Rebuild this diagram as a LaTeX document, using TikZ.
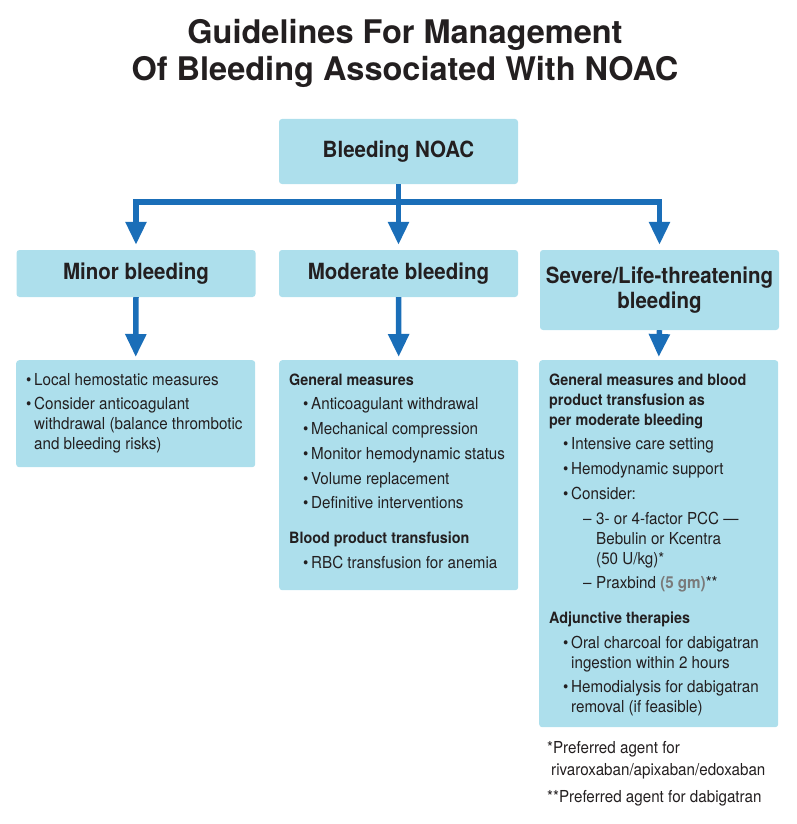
\documentclass[tikz,border=0pt]{standalone}
\usepackage{fontspec}
\setmainfont[FakeStretch=0.92]{TeX Gyre Heros}
\newfontfamily\titlefont{TeX Gyre Heros}
\usetikzlibrary{arrows.meta,positioning}

\definecolor{boxblue}{RGB}{173,223,236}
\definecolor{flowblue}{RGB}{26,110,184}
\definecolor{ink}{RGB}{35,31,32}
\definecolor{dosegray}{RGB}{122,122,122}

% text inside the blue boxes
\newcommand{\boxtext}[2]{\begin{minipage}[t][#1][t]{219pt}\fontsize{16.5}{20}\selectfont\parskip=4.7pt\relax #2\end{minipage}}
\newcommand{\bul}[2][14pt]{\par{\leftskip=#1\relax\hangindent=8pt\hangafter=1\noindent\strut\makebox[8pt][l]{\textbullet}#2\par}}
\newcommand{\dsh}[1]{\par{\leftskip=34pt\hangindent=13pt\hangafter=1\noindent\strut\makebox[13pt][l]{–}#1\par}}
\newcommand{\hd}[2][0pt]{\par\ifdim#1>0pt\vspace{#1}\fi{\fontsize{15.6}{20}\selectfont\noindent\strut\textbf{#2}\par}}

\begin{document}
\begin{tikzpicture}[x=1pt,y=-1pt,
    box/.style={fill=boxblue,rounded corners=3pt,inner sep=0pt,text=ink},
    head/.style={box,minimum width=239pt,align=center,font=\fontsize{22.3}{25.5}\selectfont\bfseries},
    listbox/.style={box,inner xsep=10pt,inner ysep=11pt,anchor=north west},
    flow/.style={draw=flowblue,line width=5.5pt,-{Triangle[width=20pt,length=23pt]}},
  ]
  \useasboundingbox (0,0) rectangle (796,824);

  \node[anchor=north,align=center,text=ink,inner sep=0pt,
    font=\titlefont\fontsize{32.5}{36.5}\selectfont\bfseries] (title) at (405,19.5)
    {Guidelines For Management\\Of Bleeding Associated With NOAC};

  \node[head,minimum height=65pt] (root) at (398.5,151.5) {Bleeding NOAC};

  \node[head,minimum height=47pt] (minor) at (136,273.5) {Minor bleeding};
  \node[head,minimum height=47pt] (moderate) at (398.5,273.5) {Moderate bleeding};
  \node[head,minimum height=80pt] (severe) at (659.5,290) {Severe/Life-threatening\\bleeding};

  \node[listbox] (minorx) at (16,360) {\boxtext{85pt}{%
    \bul[0pt]{Local hemostatic measures}
    \bul[0pt]{Consider anticoagulant\\withdrawal (balance thrombotic\\and bleeding risks)}}};

  \node[listbox] (moderatex) at (279,360) {\boxtext{208pt}{%
    \hd{General measures}
    \bul{Anticoagulant withdrawal}
    \bul{Mechanical compression}
    \bul{Monitor hemodynamic status}
    \bul{Volume replacement}
    \bul{Definitive interventions}
    \hd[10.5pt]{Blood product transfusion}
    \bul{RBC transfusion for anemia}}};

  \node[listbox] (severex) at (539,360) {\boxtext{345pt}{%
    \hd{General measures and blood\\product transfusion as\\per moderate bleeding}
    \bul{Intensive care setting}
    \bul{Hemodynamic support}
    \bul{Consider:}
    \dsh{3- or 4-factor PCC —\\Bebulin or Kcentra\\(50 U/kg)*}
    \dsh{Praxbind \textcolor{dosegray}{\textbf{(5 gm)}}**}
    \hd[10pt]{Adjunctive therapies}
    \bul{Oral charcoal for dabigatran\\ingestion within 2 hours}
    \bul{Hemodialysis for dabigatran\\removal (if feasible)}}};

  \node[anchor=north west,align=left,inner sep=0pt,text=ink,
    font=\fontsize{16.5}{22}\selectfont] (notes) at (547,741)
    {*Preferred agent for\\\hspace*{4pt}rivaroxaban/apixaban/edoxaban\\[5pt]**Preferred agent for dabigatran};

  % connectors
  \coordinate[below=18pt of root.south] (split);
  \draw[flow,shorten >=5pt] (root.south) -- (moderate.north);
  \draw[flow,shorten >=5pt] (split) -| (minor.north);
  \draw[flow,shorten >=5pt] (split) -| (severe.north);
  \foreach \up/\down in {minor/minorx, moderate/moderatex, severe/severex}
    \draw[flow,shorten >=3pt] (\up.south) -- (\down.north);
\end{tikzpicture}
\end{document}
